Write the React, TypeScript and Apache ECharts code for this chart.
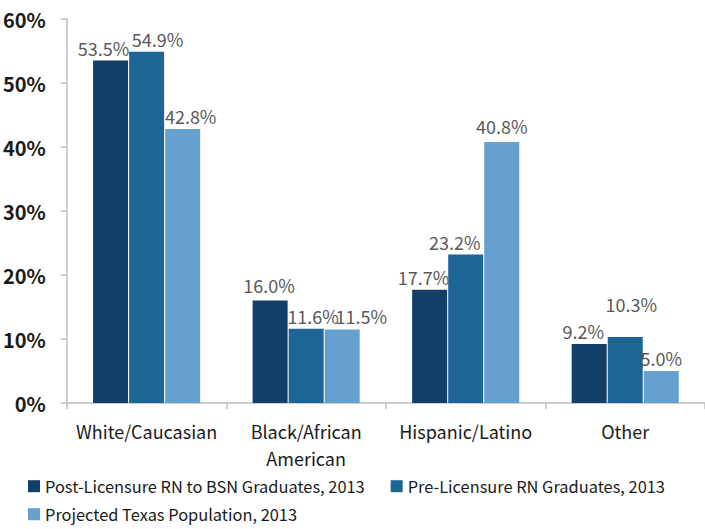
import React, { useEffect, useRef } from "react";
import * as echarts from "echarts";

const categories = ["White/Caucasian", "Black/African\nAmerican", "Hispanic/Latino", "Other"];
const seriesNames = [
  "Post-Licensure RN to BSN Graduates, 2013",
  "Pre-Licensure RN Graduates, 2013",
  "Projected Texas Population, 2013",
];
const postLicensure = [53.5, 16.0, 17.7, 9.2];
const preLicensure = [54.9, 11.6, 23.2, 10.3];
const texasPopulation = [42.8, 11.5, 40.8, 5.0];
const yTicks = [0, 10, 20, 30, 40, 50, 60];

const colors = ["#133e68", "#1d6595", "#66a0ce"];
const FONT = "'Noto Sans CJK SC', Roboto, sans-serif";

// label nudges (px) "series-category", matching the manually placed labels of the reference
const labelNudge: Record<string, [number, number]> = {
  "0-0": [-7, 0],
  "1-0": [11, 0],
  "2-0": [8, 0],
  "0-1": [-1, -3],
  "1-1": [7, 0],
  "2-1": [19, 0],
  "0-2": [-6, 0],
  "1-2": [-11, 0],
  "2-2": [0, -3],
  "0-3": [-6, 0],
  "1-3": [6, -20],
};

export default function App() {
  const ref = useRef<HTMLDivElement>(null);
  useEffect(() => {
    if (!ref.current) return;
    const chart = echarts.init(ref.current, undefined, { renderer: "svg" });
    const dataSets = [postLicensure, preLicensure, texasPopulation];
    const series = dataSets.map((vals, si) => ({
      name: seriesNames[si],
      type: "bar",
      barWidth: 35,
      barGap: "3%",
      itemStyle: { color: colors[si] },
      label: {
        show: true,
        position: "top",
        distance: 4,
        color: "#595959",
        fontFamily: FONT,
        fontSize: 18,
        formatter: (p: any) => p.value.toFixed(1) + "%",
      },
      data: vals.map((v, i) => {
        const n = labelNudge[si + "-" + i];
        return n ? { value: v, label: { offset: n } } : v;
      }),
    }));
    chart.setOption({
      animation: false,
      textStyle: { fontFamily: FONT },
      grid: { left: 66, right: -8, top: 19, bottom: 126, containLabel: false },
      legend: [
        {
          data: seriesNames.slice(0, 2),
          left: 23,
          top: 473,
          width: 690,
          itemWidth: 12,
          itemHeight: 12,
          itemGap: 26,
          icon: "rect",
          textStyle: { fontFamily: FONT, fontSize: 16.4, color: "#1a1a1a" },
        },
        {
          data: seriesNames.slice(2),
          left: 23,
          top: 501,
          itemWidth: 12,
          itemHeight: 12,
          icon: "rect",
          textStyle: { fontFamily: FONT, fontSize: 16.4, color: "#1a1a1a" },
        },
      ],
      xAxis: {
        type: "category",
        data: categories,
        axisLine: { lineStyle: { color: "#bfbfbf", width: 1.5 } },
        axisTick: { show: true, length: 6, lineStyle: { color: "#bfbfbf", width: 1.5 } },
        axisLabel: {
          color: "#1a1a1a",
          fontFamily: FONT,
          fontSize: 18,
          lineHeight: 27,
          margin: 14,
          interval: 0,
        },
      },
      yAxis: {
        type: "value",
        min: yTicks[0],
        max: yTicks[yTicks.length - 1],
        interval: 10,
        splitLine: { show: false },
        axisLine: { show: true, lineStyle: { color: "#bfbfbf", width: 1.5 } },
        axisTick: { show: true, length: 6, lineStyle: { color: "#bfbfbf", width: 1.5 } },
        axisLabel: {
          color: "#1a1a1a",
          fontFamily: FONT,
          fontSize: 20,
          fontWeight: "bold",
          margin: 21,
          formatter: (v: number) => v + "%",
        },
      },
      series,
    });
    return () => chart.dispose();
  }, []);
  return <div ref={ref} style={{ width: 705, height: 529, position: "absolute", left: 0, top: 0 }} />;
}
